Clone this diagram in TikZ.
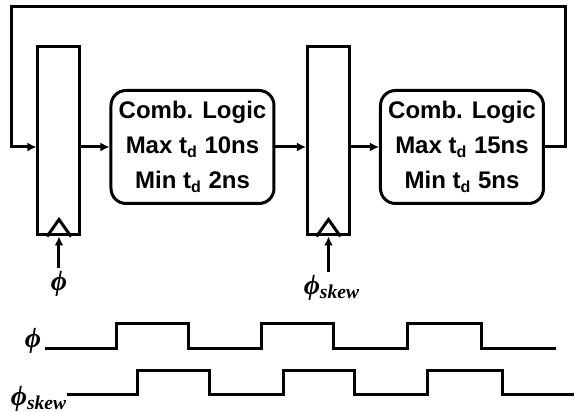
\documentclass[tikz,border=0pt]{standalone}
\usepackage{fontspec}
\setmainfont{Liberation Sans}
\newfontfamily\phifont{Liberation Serif}
\usepackage{tikz}
\usetikzlibrary{arrows.meta,positioning,calc}

\begin{document}
\begin{tikzpicture}[x=0.5pt, y=-0.5pt, line width=1.5pt,
reg/.style={draw, inner sep=0pt, minimum width=21pt, minimum height=94pt},
logic/.style={draw, rounded corners=7.5pt, align=center, inner sep=0pt, minimum width=81.5pt, minimum height=56.5pt, font=\bfseries\fontsize{12}{17.5}\selectfont},
clk/.style={inner sep=1pt, font=\phifont\bfseries\itshape\fontsize{14}{14}\selectfont},
arrow/.style={-{Latex[length=4.5pt,width=4.5pt]}},
wave/.style={line join=miter}
]
\useasboundingbox (0,0) rectangle (575,412);
% registers and logic
\node[reg] (ff1) at (59,141) {};
\node[logic] (cl1) at (192.5,147) {Comb. Logic\\Max t\textsubscript{d} 10ns\\Min t\textsubscript{d} 2ns};
\node[reg] (ff2) at (328.5,141) {};
\node[logic] (cl2) at (462,147) {Comb. Logic\\Max t\textsubscript{d} 15ns\\Min t\textsubscript{d} 5ns};
% clock marks
\draw (ff1.south) ++(-12,0) -- ++(12,-17) -- ++(12,17);
\draw (ff2.south) ++(-12,0) -- ++(12,-17) -- ++(12,17);
\node[clk] (clk1) at (59,284) {ϕ};
\node[clk] (clk2) at (332,288) {ϕ\textsubscript{skew}};
\draw[arrow] (clk1) -- (ff1.south);
\draw[arrow] (clk2.north -| ff2.south) -- (ff2.south);
% data path
\coordinate (tr) at (566,7);
\coordinate (tl) at (12,7);
\draw[arrow] (ff1.east |- cl1.west) -- (cl1.west);
\draw[arrow] (cl1.east) -- (cl1.east -| ff2.west);
\draw[arrow] (ff2.east |- cl2.west) -- (cl2.west);
\draw[arrow] (cl2.east) -| (tr) -- (tl) |- (ff1.west |- cl1.west);
% timing
\node[clk] (lphi) at (33,341) {ϕ};
\node[clk] (lskew) at (39,399) {ϕ\textsubscript{skew}};
\draw[wave] (45,349) -- (117,349) |- (189,324) |- (262,349) |- (334,324) |- (408,349) |- (482,324) |- (556,349);
\draw[wave] (67,395) -- (138,395) |- (210,371) |- (284,395) |- (355,371) |- (428,395) |- (503,371) |- (574,395);
\end{tikzpicture}
\end{document}
